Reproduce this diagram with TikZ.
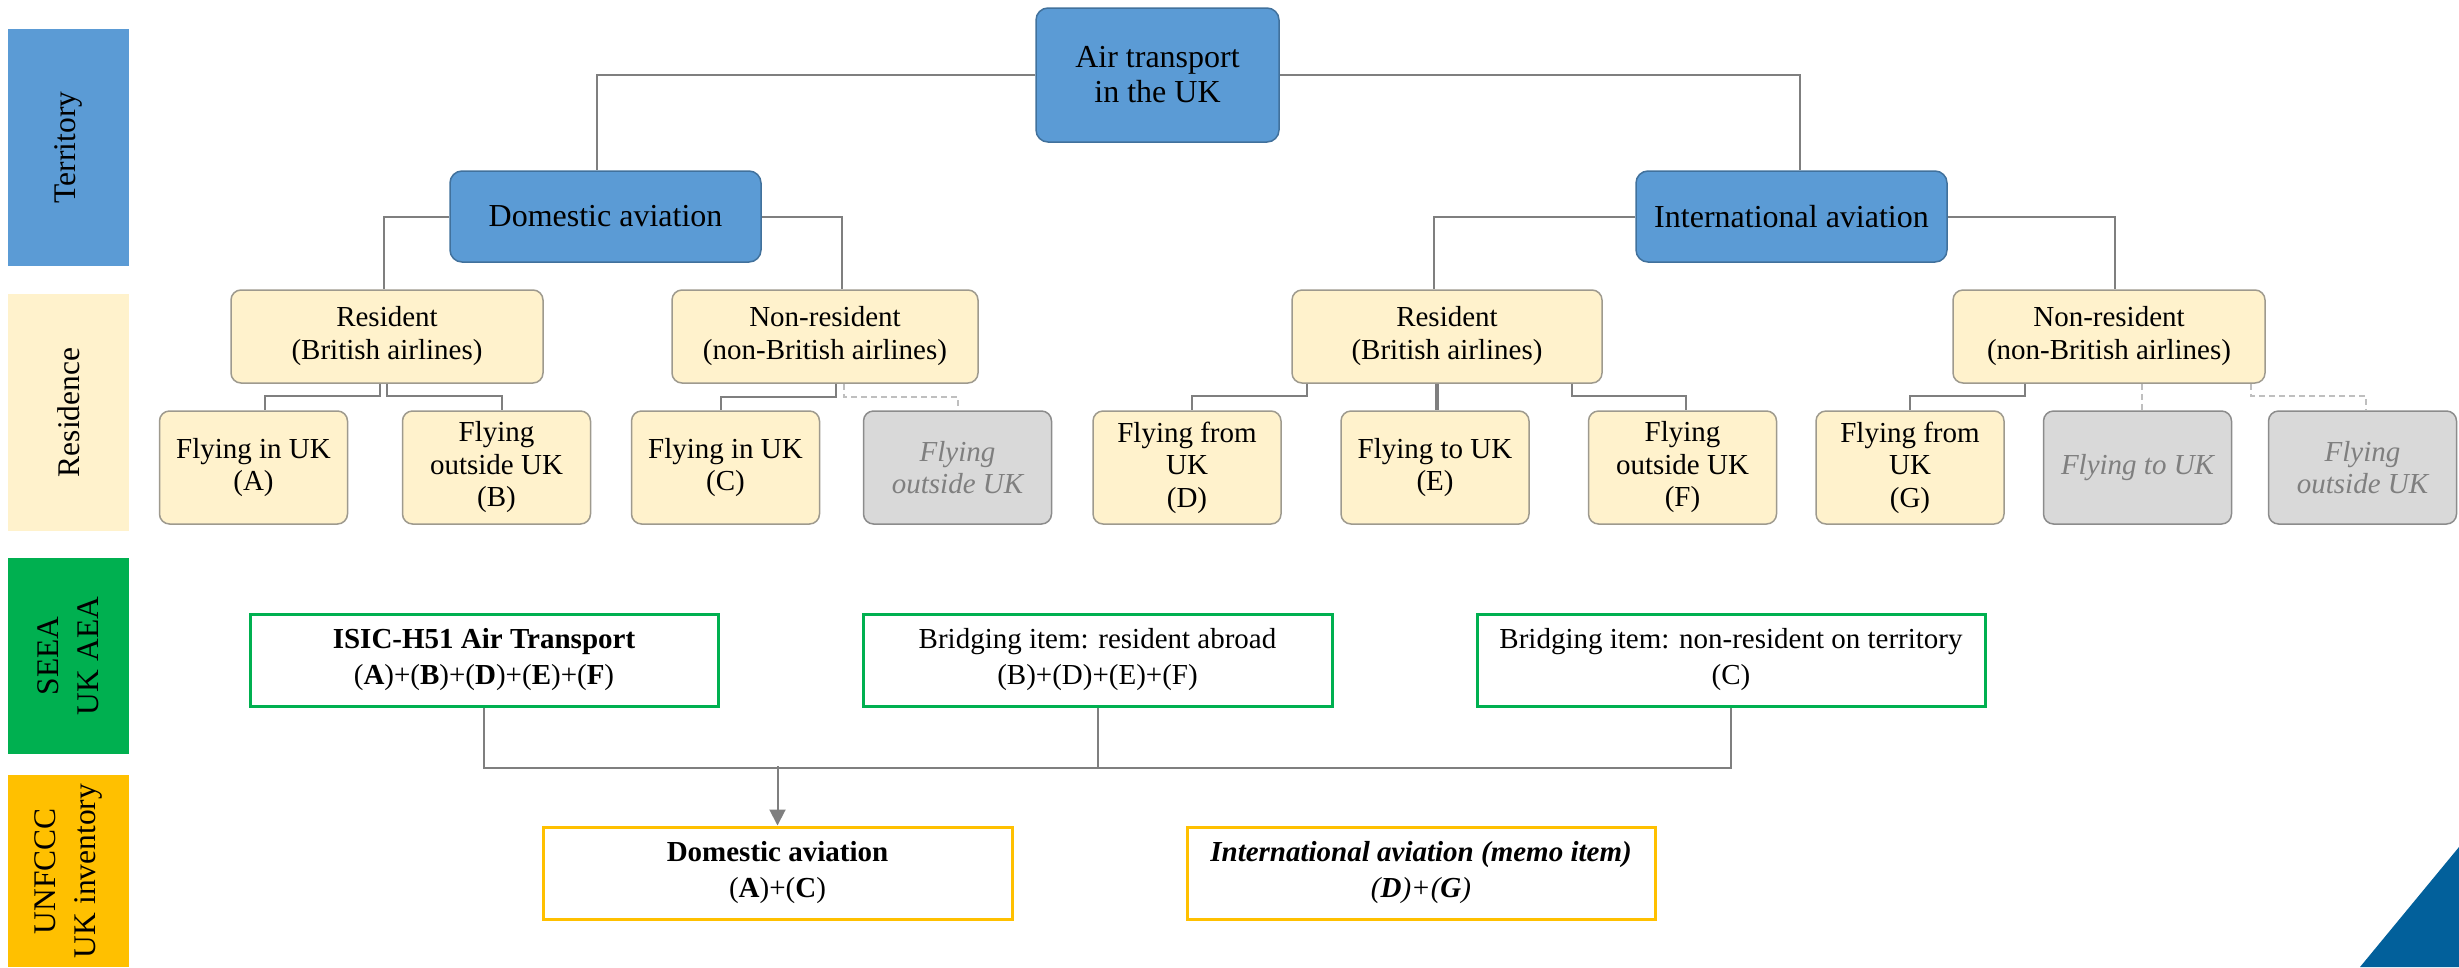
\documentclass[tikz,border=0pt]{standalone}
\usepackage{fontspec}
\setmainfont{Liberation Serif}
\usetikzlibrary{arrows.meta}
\definecolor{blueF}{HTML}{5B9BD5}
\definecolor{blueD}{HTML}{41719C}
\definecolor{cream}{HTML}{FFF2CC}
\definecolor{leafD}{HTML}{9E9A8E}
\definecolor{greyF}{HTML}{D9D9D9}
\definecolor{greyD}{HTML}{8C8C8C}
\definecolor{greyT}{HTML}{7F7F7F}
\definecolor{connC}{HTML}{7F7F7F}
\definecolor{dashC}{HTML}{BFBFBF}
\definecolor{greenC}{HTML}{00B050}
\definecolor{yellowC}{HTML}{FFC000}
\definecolor{triC}{HTML}{02609B}
\begin{document}
\begin{tikzpicture}[x=1pt,y=-1pt,
  sidebar/.style={inner sep=0pt, rotate=90, align=center, font=\fontsize{31.5}{40}\selectfont},
  bluebox/.style={draw=blueD, fill=blueF, line width=1.5pt, rounded corners=12pt, inner sep=0pt, align=center, font=\fontsize{32}{35}\selectfont},
  resbox/.style={draw=leafD, fill=cream, line width=1.5pt, rounded corners=10pt, inner sep=0pt, align=center, font=\fontsize{29}{33}\selectfont, minimum height=93pt},
  leaf/.style={draw=leafD, fill=cream, line width=1.5pt, rounded corners=10pt, inner sep=0pt, align=center, font=\fontsize{29}{32.5}\selectfont, minimum width=188pt, minimum height=113pt},
  greyleaf/.style={leaf, draw=greyD, fill=greyF, text=greyT, font=\fontsize{29}{32.5}\selectfont\itshape},
  seeabox/.style={draw=greenC, line width=3pt, inner sep=0pt, align=center, font=\fontsize{29}{36}\selectfont, minimum height=92pt},
  unbox/.style={draw=yellowC, line width=3pt, inner sep=0pt, align=center, font=\fontsize{29}{36}\selectfont, minimum height=92pt},
  conn/.style={draw=connC, line width=2pt},
  dconn/.style={draw=dashC, line width=2pt, dash pattern=on 6pt off 4pt}
]
\useasboundingbox (0,0) rectangle (2459,967);

% side bars
\node[sidebar, fill=blueF, minimum width=237pt, minimum height=121pt] (T) at (68.5,147.5) {Territory};
\node[sidebar, fill=cream, minimum width=237pt, minimum height=121pt] (R) at (68.5,412.5) {Residence};
\node[sidebar, fill=greenC, minimum width=196pt, minimum height=121pt] (SE) at (68.5,656) {SEEA\\UK AEA};
\node[sidebar, fill=yellowC, minimum width=192pt, minimum height=121pt] (UN) at (68.5,871) {UNFCCC\\UK inventory};

% top tree
\node[bluebox, minimum width=243pt, minimum height=134pt] (AT) at (1157.5,75) {Air transport\\in the UK};
\node[bluebox, minimum width=311pt, minimum height=91pt] (DA) at (605.5,216.5) {Domestic aviation};
\node[bluebox, minimum width=311pt, minimum height=91pt] (IA) at (1791.5,216.5) {International aviation};

\node[resbox, minimum width=312pt] (Rd) at (387,336.5) {Resident\\(British airlines)};
\node[resbox, minimum width=306pt] (Dn) at (825,336.5) {Non-resident\\(non-British airlines)};
\node[resbox, minimum width=310pt] (Ri) at (1447,336.5) {Resident\\(British airlines)};
\node[resbox, minimum width=312pt] (Ni) at (2109,336.5) {Non-resident\\(non-British airlines)};

\node[leaf] (A) at (253.5,467.5) {Flying in UK\\(A)};
\node[leaf] (B) at (496.5,467.5) {Flying\\outside UK\\(B)};
\node[leaf] (C) at (725.5,467.5) {Flying in UK\\(C)};
\node[greyleaf] (Cg) at (957.5,467.5) {Flying\\outside UK};
\node[leaf] (D) at (1187,467.5) {Flying from\\UK\\(D)};
\node[leaf] (E) at (1435,467.5) {Flying to UK\\(E)};
\node[leaf] (F) at (1682.5,467.5) {Flying\\outside UK\\(F)};
\node[leaf] (G) at (1910,467.5) {Flying from\\UK\\(G)};
\node[greyleaf] (Gg1) at (2137.5,467.5) {Flying to UK};
\node[greyleaf] (Gg2) at (2362.5,467.5) {Flying\\outside UK};

% top connectors
\draw[conn] (AT.west) -| ([xshift=-8.5pt]DA.north);
\draw[conn] (AT.east) -| ([xshift=8.5pt]IA.north);
\draw[conn] (DA.west) -| ([xshift=-3pt]Rd.north);
\draw[conn] (DA.east) -| ([xshift=17pt]Dn.north);
\draw[conn] (IA.west) -| ([xshift=-13pt]Ri.north);
\draw[conn] (IA.east) -| ([xshift=6pt]Ni.north);

\draw[conn] ([xshift=-7pt]Rd.south) -- ++(0,12) -| ([xshift=11.5pt]A.north);
\draw[conn] (Rd.south) -- ++(0,12) -| ([xshift=5.5pt]B.north);
\draw[conn] ([xshift=11pt]Dn.south) -- ++(0,13) -| ([xshift=-4.5pt]C.north);
\draw[dconn] ([xshift=19pt]Dn.south) -- ++(0,13) -| (Cg.north);
\draw[conn] ([xshift=-140pt]Ri.south) -- ++(0,12) -| ([xshift=5pt]D.north);
\draw[conn, line width=4pt] ([xshift=-10pt]Ri.south) -- ([xshift=2pt]E.north);
\draw[conn] ([xshift=125pt]Ri.south) -- ++(0,12) -| ([xshift=3.5pt]F.north);
\draw[conn] ([xshift=-84pt]Ni.south) -- ++(0,12) -| (G.north);
\draw[dconn] ([xshift=33pt]Ni.south) -- ([xshift=4.5pt]Gg1.north);
\draw[dconn] ([xshift=142pt]Ni.south) -- ++(0,12) -| ([xshift=3.5pt]Gg2.north);

% bottom part
\node[seeabox, minimum width=468pt] (S1) at (484,660) {\textbf{ISIC-H51 Air Transport}\\(\textbf{A})+(\textbf{B})+(\textbf{D})+(\textbf{E})+(\textbf{F})};
\node[seeabox, minimum width=469pt] (S2) at (1097.5,660) {Bridging item: resident abroad\\(B)+(D)+(E)+(F)};
\node[seeabox, minimum width=508pt] (S3) at (1731,660) {Bridging item: non-resident on territory\\(C)};
\node[unbox, minimum width=469pt] (U1) at (777.5,873) {\textbf{Domestic aviation}\\(\textbf{A})+(\textbf{C})};
\node[unbox, minimum width=468pt] (U2) at (1421,873) {\textbf{\textit{International aviation (memo item)}}\\\textit{(\textbf{D})+(\textbf{G})}};

\draw[conn] (S1.south) -- ++(0,60) -| (S3.south);
\draw[conn] (S2.south) -- ++(0,60);
\coordinate (J) at (777.5,766);
\draw[conn, -{Triangle[length=16pt,width=16pt]}] (J) -- (U1.north);

% decorative triangle
\fill[triC] (2459,847) -- (2459,967) -- (2360,967) -- cycle;
\end{tikzpicture}
\end{document}
